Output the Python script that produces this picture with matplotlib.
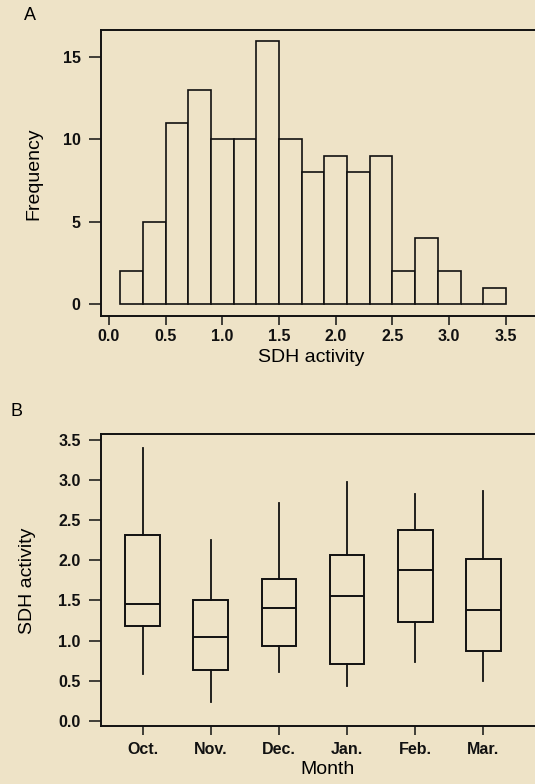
import matplotlib
matplotlib.use("Agg")
import matplotlib.pyplot as plt
import numpy as np

# ---- data ----
bin_edges = [0.1, 0.3, 0.5, 0.7, 0.9, 1.1, 1.3, 1.5, 1.7, 1.9, 2.1, 2.3, 2.5, 2.7, 2.9, 3.1, 3.3, 3.5]
freq_counts = [2, 5, 11, 13, 10, 10, 16, 10, 8, 9, 8, 9, 2, 4, 2, 0, 1]
hist_xticks = [0.0, 0.5, 1.0, 1.5, 2.0, 2.5, 3.0, 3.5]
hist_yticks = [0, 5, 10, 15]

months = ["Oct.", "Nov.", "Dec.", "Jan.", "Feb.", "Mar."]
whisker_low = [0.58, 0.23, 0.61, 0.43, 0.73, 0.49]
q1 = [1.18, 0.63, 0.93, 0.71, 1.23, 0.87]
median = [1.45, 1.04, 1.40, 1.55, 1.88, 1.38]
q3 = [2.31, 1.50, 1.77, 2.06, 2.38, 2.02]
whisker_high = [3.40, 2.25, 2.72, 2.98, 2.83, 2.86]
box_yticks = [0.0, 0.5, 1.0, 1.5, 2.0, 2.5, 3.0, 3.5]

BG = "#EEE3C7"
INK = "#111111"
TICK_FS = 11.5
LABEL_FS = 14
plt.rcParams["font.family"] = ["Liberation Sans", "DejaVu Sans"]

W, H = 535, 784
fig = plt.figure(figsize=(W / 100, H / 100), dpi=100, facecolor=BG)

def fig_rect(l, t, r, b):
    return [l / W, 1 - b / H, (r - l) / W, (b - t) / H]

def style_axes(ax, xpad):
    ax.tick_params(axis="y", direction="out", length=8.6, width=1.1, pad=6,
                   labelsize=TICK_FS, colors=INK)
    ax.tick_params(axis="x", direction="out", length=6.5, width=1.1, pad=xpad,
                   labelsize=TICK_FS, colors=INK)
    for lab in ax.get_xticklabels() + ax.get_yticklabels():
        lab.set_fontweight("bold")
    for sp in ax.spines.values():
        sp.set_linewidth(1.4)
        sp.set_color(INK)

# ---- Panel A: histogram ----
axA = fig.add_axes(fig_rect(101, 30, 550, 316), facecolor=BG)
widths = np.diff(bin_edges)
axA.bar(bin_edges[:-1], freq_counts, width=widths, align="edge",
        facecolor=BG, edgecolor=INK, linewidth=1.2)
axA.set_xlim(-0.0705, 3.889)
axA.set_ylim(-0.729, 16.64)
axA.set_xticks(hist_xticks)
axA.set_xticklabels([f"{v:.1f}" for v in hist_xticks])
axA.set_yticks(hist_yticks)
style_axes(axA, 3)
axA.set_xlabel("SDH activity", fontsize=LABEL_FS, va="center")
axA.xaxis.set_label_coords((311 - 101) / 449, (316 - 357) / 286)
axA.set_ylabel("Frequency", fontsize=LABEL_FS, va="center")
axA.yaxis.set_label_coords((34 - 101) / 449, (316 - 174) / 286)
fig.text(30 / W, 1 - 15 / H, "A", fontsize=13, ha="center", va="center")

# ---- Panel B: boxplots ----
axB = fig.add_axes(fig_rect(101, 434, 550, 726), facecolor=BG)
stats = []
for i, m in enumerate(months):
    stats.append(dict(label=m, whislo=whisker_low[i], q1=q1[i], med=median[i],
                      q3=q3[i], whishi=whisker_high[i], fliers=[]))
pos = np.arange(len(months))
axB.bxp(stats, positions=pos, widths=0.51, showcaps=False, showfliers=False,
        patch_artist=True,
        boxprops=dict(facecolor=BG, edgecolor=INK, linewidth=1.4),
        medianprops=dict(color=INK, linewidth=1.4),
        whiskerprops=dict(color=INK, linewidth=1.3))
axB.set_xlim(-0.612, 5.98)
axB.set_ylim(-0.066, 3.575)
axB.set_xticks(pos)
axB.set_xticklabels(months)
axB.set_yticks(box_yticks)
axB.set_yticklabels([f"{v:.1f}" for v in box_yticks])
style_axes(axB, 5)
axB.set_xlabel("Month", fontsize=LABEL_FS, va="center")
axB.xaxis.set_label_coords((327 - 101) / 449, (726 - 770) / 292)
axB.set_ylabel("SDH activity", fontsize=LABEL_FS, va="center")
axB.yaxis.set_label_coords((27 - 101) / 449, (726 - 581) / 292)
fig.text(16 / W, 1 - 411 / H, "B", fontsize=13, ha="center", va="center")

fig.savefig("out.png", dpi=100, facecolor=BG)
